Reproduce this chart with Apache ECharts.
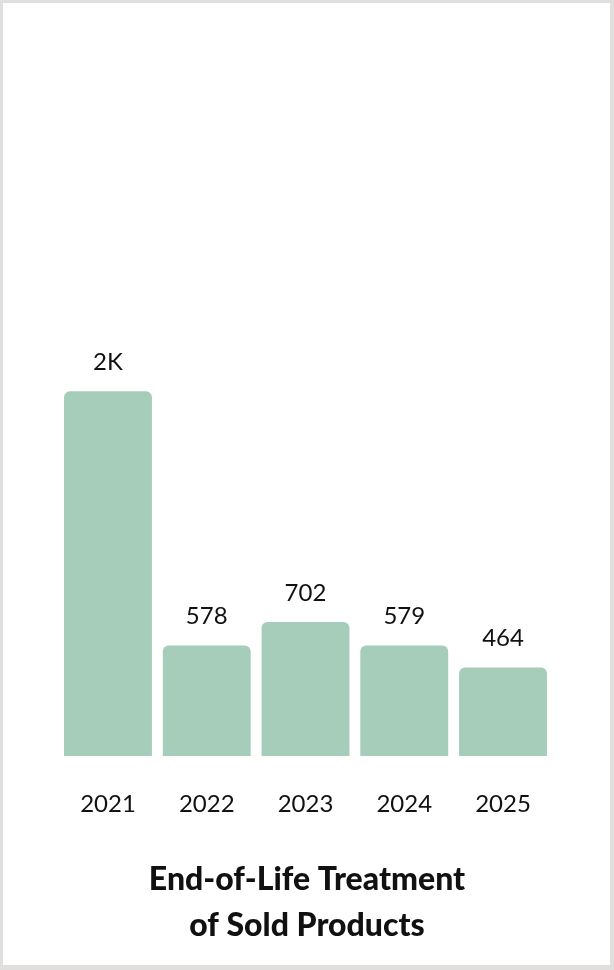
<!DOCTYPE html>
<html>
<head>
<meta charset="utf-8">
<script src="https://cdn.jsdelivr.net/npm/echarts@6/dist/echarts.min.js"></script>
<style>
  html, body { margin: 0; padding: 0; background: #e1dede; }
  .frame { position: absolute; left: 3px; top: 3px; width: 607px; height: 962px; background: #fff; }
  #chart { position: absolute; left: -3px; top: -3px; width: 614px; height: 970px; }
</style>
</head>
<body>
<div class="frame"><div id="chart"></div></div>
<script>
// data
const years = ['2021', '2022', '2023', '2024', '2025']
const treated = [1910, 578, 702, 579, 464]
const titleText = 'End-of-Life Treatment\nof Sold Products'

const shortNum = (v) => v >= 1000 ? Math.round(v / 1000) + 'K' : String(v)

const chart = echarts.init(document.getElementById('chart'))
const option = {
  animation: false,
  backgroundColor: 'transparent',
  title: {
    text: titleText,
    left: 'center',
    top: 852,
    textStyle: {
      fontFamily: 'Lato',
      fontWeight: 900,
      fontSize: 32,
      lineHeight: 46,
      color: '#111'
    }
  },
  grid: { left: 58.6, right: 61.6, top: 374, bottom: 214 },
  xAxis: {
    type: 'category',
    data: years,
    axisLine: { show: false },
    axisTick: { show: false },
    axisLabel: {
      margin: 36,
      fontFamily: 'Lato',
      fontSize: 24,
      color: '#111'
    }
  },
  yAxis: {
    type: 'value',
    min: 0,
    max: 2000,
    show: false,
    splitLine: { show: false }
  },
  series: [{
    type: 'bar',
    data: treated,
    barCategoryGap: '11%',
    itemStyle: { color: '#a6cdb9', borderRadius: [6, 6, 0, 0] },
    label: {
      show: true,
      position: 'top',
      distance: 17,
      fontFamily: 'Lato',
      fontSize: 24,
      color: '#111',
      formatter: (p) => shortNum(p.value)
    }
  }]
}
chart.setOption(option)
</script>
</body>
</html>
